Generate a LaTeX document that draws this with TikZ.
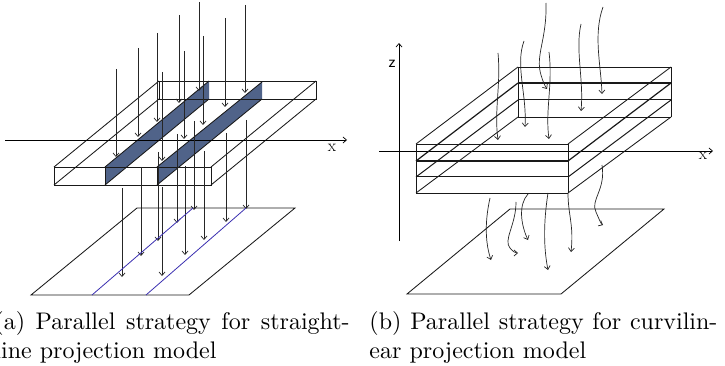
\documentclass[tikz,border=0pt]{standalone}
\usepackage{tikz}
\usetikzlibrary{arrows.meta}
\usepackage{xcolor}
\definecolor{slabblue}{HTML}{506389}
\definecolor{lineblue}{HTML}{3A2FB0}
\tikzset{
    ray/.style={->, line width=0.7pt, black!85},
    edge/.style={line width=0.85pt, black!90},
    axislabel/.style={font=\fontsize{17}{17}\selectfont, inner sep=0pt},
    caption/.style={font=\normalsize, scale=2.4, text width=#1, align=justify, anchor=north west, inner sep=0pt}
}

\begin{document}
\begin{tikzpicture}[x=1pt, y=-1pt, >={Straight Barb[length=3.5pt,width=6pt]}]
    \useasboundingbox (0,0) rectangle (725,366);

    % Left: blue slabs
    \fill[slabblue] (105,167) -- (105,185) -- (209,99) -- (209,81) -- cycle;
    \fill[slabblue] (157,167) -- (157,185) -- (262,99) -- (262,82) -- cycle;

    % Left: box
    \draw[edge] (54,167) rectangle (211,185);
    \draw[edge] (159,81) rectangle (316,99);
    \foreach \xa/\ya/\xb/\yb in {54/167/159/81, 54/185/159/99, 211/167/316/81, 211/185/316/99, 105/167/209/81, 105/185/209/99, 157/167/262/82, 157/185/262/99, 105/167/105/185, 157/167/157/185}
        \draw[edge] (\xa,\ya) -- (\xb,\yb);

    % Left: x axis
    \draw[->, line width=0.7pt] (5,140) -- (347,140);
    \node[axislabel] (xleft) at (332,148) {x};

    % Left: rays above the box
    \foreach \x/\ya/\yb in {116/69/157, 138/48/137, 157/33/122, 162/72/161, 179/15/103, 184/51/139, 199/2/91, 203/36/125, 225/18/107, 245/5/93}
        \draw[ray] (\x,\ya) -- (\x,\yb);

    % Left: rays below the box
    \foreach \x/\ya/\yb in {122/188/277, 141/167/256, 158/152/241, 162/187/276, 177/134/223, 185/166/255, 194/121/210, 204/151/240, 226/133/222, 246/120/209}
        \draw[ray] (\x,\ya) -- (\x,\yb);

    % Left: image plane
    \draw[edge] (31,295) -- (189,295) -- (295,208) -- (137,208) -- cycle;
    \draw[line width=0.8pt, lineblue] (92,295) -- (193,208);
    \draw[line width=0.8pt, lineblue] (146,295) -- (246,208);

    % Right: axes
    \draw[->, line width=0.7pt] (399,241) -- (399,43);
    \draw[->, line width=0.7pt] (379,151) -- (713,151);
    \node[axislabel, font=\fontsize{17}{17}\sffamily] (zright) at (392,64) {z};
    \node[axislabel] (xright) at (703,156) {x};

    % Right: layered box
    \foreach \yf/\yb/\lw in {144/67/0.85, 161/83/1.2, 177/100/1.0, 193/117/0.85} {
        \draw[edge, line width=\lw pt] (416,\yf) -- (568,\yf);
        \draw[edge, line width=\lw pt] (518,\yb) -- (671,\yb);
        \draw[edge, line width=\lw pt] (416,\yf) -- (518,\yb);
        \draw[edge, line width=\lw pt] (568,\yf) -- (671,\yb);
    }
    \foreach \x/\ya/\yb in {416/144/193, 568/144/193, 518/67/117, 671/67/117}
        \draw[edge] (\x,\ya) -- (\x,\yb);

    % Right: curved rays above the box
    \draw[ray] (498,53) .. controls (501,85) and (494,110) .. (498,140);
    \draw[ray] (524,41) .. controls (515,65) and (527,95) .. (525,127);
    \draw[ray] (546,3) .. controls (547,40) and (535,55) .. (541,75) .. controls (543,82) and (545,86) .. (547,89);
    \draw[ray] (549,52) .. controls (553,85) and (545,110) .. (549,139);
    \draw[ray] (581,24) .. controls (575,50) and (584,80) .. (581,111);
    \draw[ray] (603,7) .. controls (593,35) and (601,65) .. (602,94);

    % Right: curved rays below the box
    \draw[ray] (490,198) .. controls (484,225) and (486,245) .. (491,260);
    \draw[ray] (516,202) .. controls (516,225) and (503,240) .. (510,248) .. controls (513,252) and (516,253) .. (518,253);
    \draw[ray] (528,194) .. controls (518,205) and (521,225) .. (528,240);
    \draw[ray] (548,193) .. controls (543,225) and (544,250) .. (548,270);
    \draw[ray] (568,193) .. controls (568,215) and (574,225) .. (571,252);
    \draw[ray] (602,165) .. controls (606,190) and (590,200) .. (596,212) .. controls (599,219) and (601,224) .. (603,225);

    % Right: image plane
    \draw[edge] (407,294) -- (561,294) -- (664,209) -- (510,209) -- cycle;

    % Captions
    \node[caption=148pt] (capa) at (-6,311) {(a) Parallel strategy for straight-\linebreak line projection model};
    \node[caption=145pt] (capb) at (369,311) {(b) Parallel strategy for curvilin-\linebreak ear projection model};
\end{tikzpicture}
\end{document}
